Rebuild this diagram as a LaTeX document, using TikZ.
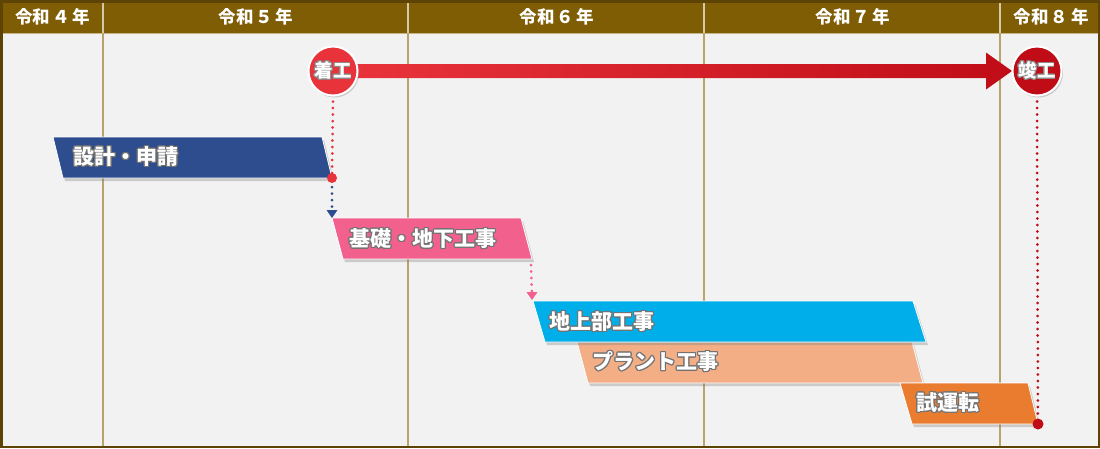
\documentclass[tikz,border=0pt]{standalone}
\usepackage{fontspec}
\newfontfamily\jp{Noto Sans CJK JP}
\usepackage[copies]{contour}
\contourlength{0.9pt}
\usetikzlibrary{shadows,calc,arrows.meta}
\definecolor{hdr}{HTML}{7E5D05}
\definecolor{frame}{HTML}{5E4404}
\definecolor{sep}{HTML}{B8A36C}
\definecolor{bg}{HTML}{F2F2F2}
\definecolor{cblue}{HTML}{2D4D8E}
\definecolor{cpink}{HTML}{F2608E}
\definecolor{ccyan}{HTML}{00AEEA}
\definecolor{cpeach}{HTML}{F3AE86}
\definecolor{corange}{HTML}{EA7C30}
\definecolor{cred}{HTML}{E8333B}
\definecolor{cdred}{HTML}{C00C16}
\tikzset{
  yearlabel/.style={text=white,font=\jp\bfseries\fontsize{17.5}{17.5}\selectfont},
  barbox/.style={draw=white,line width=0.8pt,drop shadow={shadow xshift=2pt,shadow yshift=-3pt,opacity=0.35}},
  bartext/.style={anchor=west,text=white,font=\jp\bfseries\fontsize{21}{21}\selectfont},
  milestone/.style={circle,minimum size=49pt,inner sep=0pt,draw=white,line width=2pt,text=white,
    font=\jp\bfseries\fontsize{18.5}{18.5}\selectfont,drop shadow={shadow xshift=1.5pt,shadow yshift=-2pt,opacity=0.35}},
  dotline/.style={line width=3pt,line cap=round,dash pattern=on 0pt off 6.5pt},
}
\newcommand{\wt}[1]{\contour{black!55}{#1}}
\newcommand{\yr}[1]{令和\kern2.5pt#1\kern2.5pt年}
\begin{document}
\begin{tikzpicture}[x=1pt,y=-1pt]
\useasboundingbox (0,0) rectangle (1100,448);
\fill[bg] (0,0) rectangle (1100,448);
\fill[hdr] (0,0) rectangle (1100,33);
\draw[sep!80!white,line width=1.5pt] (0,33.5) -- (1100,33.5);
\foreach \x in {103,408,704,1000}{
  \draw[sep,line width=2pt] (\x,33) -- (\x,448);
  \draw[sep!60!white,line width=2pt] (\x,0) -- (\x,33);
}
\draw[frame,line width=2.5pt] (1.25,1.25) rectangle (1098.75,446.75);

\node[yearlabel] (y4) at (53,17) {\yr{４}};
\node[yearlabel] (y5) at (256,17) {\yr{５}};
\node[yearlabel] (y6) at (557,17) {\yr{６}};
\node[yearlabel] (y7) at (853,17) {\yr{７}};
\node[yearlabel] (y8) at (1051,17) {\yr{８}};

% bars
\filldraw[barbox,fill=cblue] (53,137) coordinate (b1tl) -- (322,137) -- (332,178) coordinate (b1br) -- (63,178) -- cycle;
\node[bartext] (t1) at (70,157) {\wt{設計・申請}};
\filldraw[barbox,fill=cpink] (332,218) coordinate (b2tl) -- (521,218) -- (532,259) coordinate (b2br) -- (343,259) -- cycle;
\node[bartext] (t2) at (346,239) {\wt{基礎・地下工事}};
\filldraw[barbox,fill=cpeach] (577,342) coordinate (b4tl) -- (912,342) -- (923,383) coordinate (b4br) -- (588,383) -- cycle;
\filldraw[barbox,fill=ccyan] (533,301) coordinate (b3tl) -- (913,301) -- (926,342) coordinate (b3br) -- (545,342) -- cycle;
\node[bartext] (t3) at (546,322) {\wt{地上部工事}};
\node[bartext] (t4) at (589,362) {\wt{プラント工事}};
\filldraw[barbox,fill=corange] (900,383) coordinate (b5tl) -- (1028,383) -- (1038,424) coordinate (b5br) -- (912,424) -- cycle;
\node[bartext] (t5) at (913,403) {\wt{試運転}};

% milestones
\coordinate (s0) at (333,71);
\coordinate (e0) at (1037,71);
\shade[left color=cred,right color=cdred]
  ($(s0)+(20,-7)$) -- ($(e0)+(-51,-7)$) -- ($(e0)+(-51,-18.5)$) -- ($(e0)+(-25,0)$)
  -- ($(e0)+(-51,18.5)$) -- ($(e0)+(-51,7)$) -- ($(s0)+(20,7)$) -- cycle;
\node[milestone,fill=cred] (s) at (s0) {\contour{black!45}{着工}};
\node[milestone,fill=cdred] (e) at (e0) {\contour{black!45}{竣工}};

% dependency lines
\draw[dotline,cred] ($(s.south)+(0,5)$) -- (b1br);
\fill[cred] (b1br) circle (5);
\draw[dotline,cblue] ($(b1br)+(0,9)$) -- ($(b2tl)+(0,-8)$);
\fill[cblue] (b2tl) -- ++(-5.5,-8) -- ++(11,0) -- cycle;
\draw[dotline,cpink] ($(b2br)+(-1,6)$) -- ($(b3tl)+(-1,-8)$);
\fill[cpink] ($(b3tl)+(-1,-1)$) -- ++(-5.5,-8) -- ++(11,0) -- cycle;
\draw[dotline,cdred] ($(e.south)+(0,5)$) -- (b5br);
\fill[cdred] (b5br) circle (5.5);
\end{tikzpicture}
\end{document}
